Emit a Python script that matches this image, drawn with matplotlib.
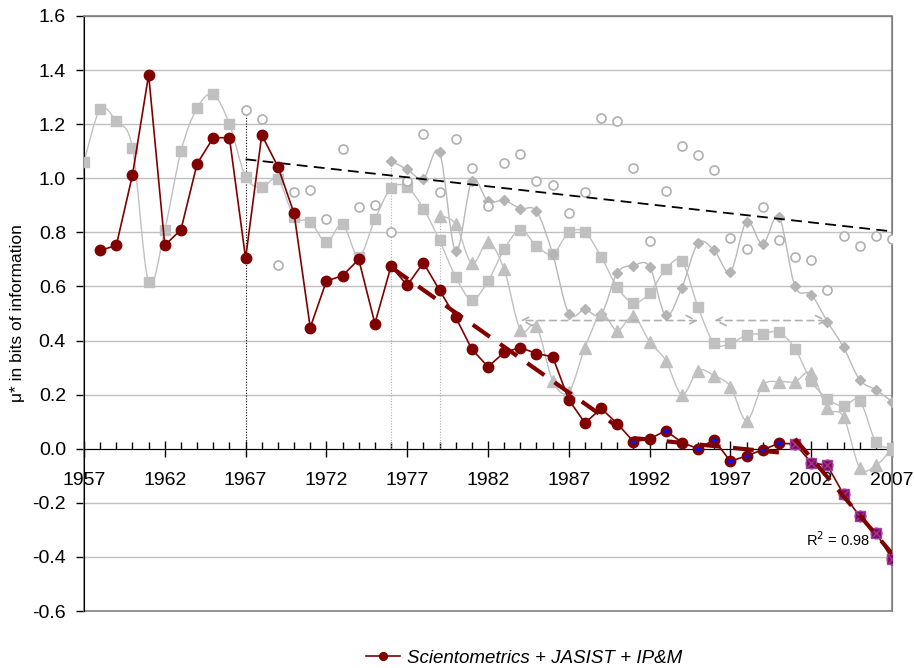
import numpy as np
import matplotlib
matplotlib.use('Agg')
import matplotlib.pyplot as plt
from matplotlib.path import Path
from matplotlib.patches import PathPatch, Rectangle
from matplotlib.ticker import MultipleLocator, FormatStrFormatter

plt.rcParams['font.family'] = ['Liberation Sans', 'DejaVu Sans']

# ---------------- data ----------------
years_main = list(range(1958, 2008))
mu_main = [0.733, 0.752, 1.012, 1.383, 0.752, 0.81, 1.054, 1.15, 1.15, 0.704,
           1.16, 1.043, 0.87, 0.448, 0.62, 0.64, 0.70, 0.463, 0.675, 0.604,
           0.688, 0.586, 0.486, 0.368, 0.303, 0.356, 0.374, 0.352, 0.34, 0.181,
           0.095, 0.149, 0.093, 0.026, 0.036, 0.067, 0.023, 0.0, 0.033, -0.047,
           -0.026, -0.004, 0.02, 0.018, -0.051, -0.062, -0.168, -0.25, -0.31, -0.407]

years_sq = list(range(1957, 2008))
mu_sq = [1.06, 1.255, 1.21, 1.113, 0.615, 0.81, 1.10, 1.26, 1.31, 1.20,
         1.006, 0.967, 0.997, 0.858, 0.84, 0.763, 0.83, 0.71, 0.848, 0.963,
         0.967, 0.888, 0.77, 0.635, 0.551, 0.62, 0.737, 0.81, 0.75, 0.72,
         0.80, 0.80, 0.71, 0.597, 0.54, 0.576, 0.664, 0.693, 0.523, 0.39,
         0.39, 0.42, 0.426, 0.43, 0.37, 0.25, 0.185, 0.157, 0.178, 0.026, 0.004]

years_circ = list(range(1967, 2008))
mu_circ = [1.252, 1.22, 0.678, 0.95, 0.956, 0.848, 1.11, 0.893, 0.903, 0.80,
           0.99, 1.162, 0.95, 1.144, 1.037, 0.896, 1.055, 1.09, 0.99, 0.974,
           0.87, 0.948, 1.222, 1.211, 1.037, 0.767, 0.952, 1.12, 1.085, 1.03,
           0.78, 0.74, 0.893, 0.77, 0.71, 0.696, 0.586, 0.785, 0.748, 0.786, 0.777]

years_dia = list(range(1976, 2008))
mu_dia = [1.063, 1.033, 0.999, 1.096, 0.73, 0.99, 0.915, 0.918, 0.888, 0.878,
          0.72, 0.50, 0.515, 0.497, 0.65, 0.677, 0.673, 0.493, 0.596, 0.76,
          0.733, 0.655, 0.84, 0.756, 0.858, 0.60, 0.57, 0.47, 0.375, 0.255,
          0.218, 0.174]

years_tri = list(range(1979, 2008))
mu_tri = [0.862, 0.83, 0.685, 0.763, 0.663, 0.44, 0.452, 0.252, 0.21, 0.374,
          0.497, 0.437, 0.49, 0.396, 0.326, 0.20, 0.289, 0.27, 0.23, 0.104,
          0.234, 0.248, 0.248, 0.28, 0.149, 0.118, -0.07, -0.062, 0.0]

# piecewise-fit periods of the main series
period1 = (1976, 1990)
period2 = (1991, 2000)
period3 = (2001, 2007)
r2_label = "R$^2$ = 0.98"

# dashed double arrows
arrow_spans = [(1984, 1995), (1996, 2003)]
arrow_level = 0.474

xtick_labels = ['1957', '1962', '1967', '1972', '1977', '1982', '1987', '1992', '1997', '2002', '2007']

legend_label = 'Scientometrics + JASIST + IP&M'

# ---------------- helpers ----------------
def smooth_path(x, y):
    x = np.asarray(x, float); y = np.asarray(y, float)
    n = len(x)
    verts = [(x[0], y[0])]
    codes = [Path.MOVETO]
    for i in range(n - 1):
        i0 = max(i - 1, 0); i3 = min(i + 2, n - 1)
        c1 = (x[i] + (x[i + 1] - x[i0]) / 6, y[i] + (y[i + 1] - y[i0]) / 6)
        c2 = (x[i + 1] - (x[i3] - x[i]) / 6, y[i + 1] - (y[i3] - y[i]) / 6)
        verts += [c1, c2, (x[i + 1], y[i + 1])]
        codes += [Path.CURVE4] * 3
    return Path(verts, codes)

def fit(period):
    ys = np.array(years_main); vs = np.array(mu_main)
    m = (ys >= period[0]) & (ys <= period[1])
    k, b = np.polyfit(ys[m], vs[m], 1)
    xx = np.array(period, float)
    return xx, k * xx + b

# ---------------- figure ----------------
fig = plt.figure(figsize=(9.14, 6.68), dpi=100)
ax = fig.add_axes([84 / 914, 1 - 611 / 668, (892 - 84) / 914, (611 - 16) / 668])

ax.set_xlim(1957, 2007)
ax.set_ylim(-0.6, 1.6)

ax.yaxis.set_major_locator(MultipleLocator(0.2))
ax.yaxis.set_major_formatter(FormatStrFormatter('%.1f'))
ax.yaxis.grid(True, color='#c0c0c0', lw=1.0, zorder=0)
ax.set_axisbelow(True)

ax.set_xticks(range(1957, 2008, 5))
ax.set_xticklabels(xtick_labels)
ax.set_xticks(range(1957, 2008), minor=True)

ax.spines['bottom'].set_position(('data', 0))
ax.spines['bottom'].set_color('black')
ax.spines['left'].set_color('black')
ax.spines['top'].set_color('#808080')
ax.spines['right'].set_color('#808080')
ax.add_patch(Rectangle((0, 0), 1, 1, transform=ax.transAxes, fill=False,
                       edgecolor='#808080', lw=1.2, zorder=1, clip_on=False))

ax.tick_params(axis='x', which='major', direction='inout', length=12, width=1,
               labelsize=14, pad=11)
ax.tick_params(axis='x', which='minor', direction='in', length=5, width=1)
ax.tick_params(axis='y', which='major', direction='out', length=6, width=1,
               labelsize=14, pad=7)

ax.set_ylabel('\u03bc* in bits of information', fontsize=12.5, labelpad=5)

grey = '#c0c0c0'
# smoothed grey lines
for xs, ys, col in [(years_sq, mu_sq, grey), (years_dia, mu_dia, '#b8b8b8'),
                    (years_tri, mu_tri, grey)]:
    ax.add_patch(PathPatch(smooth_path(xs, ys), fill=False, edgecolor=col,
                           lw=1.0, zorder=2))
ax.plot(years_sq, mu_sq, ls='none', marker='s', ms=7.5, color=grey, mec=grey, zorder=3)
ax.plot(years_dia, mu_dia, ls='none', marker='D', ms=5.5, color='#b4b4b4', mec='#b4b4b4', zorder=3)
ax.plot(years_tri, mu_tri, ls='none', marker='^', ms=8, color=grey, mec=grey, zorder=3)
ax.plot(years_circ, mu_circ, ls='none', marker='o', ms=6.5, mfc='white',
        mec='#b0b0b0', mew=1.2, zorder=3)

# drop lines at the start of series
ax.vlines(years_circ[0], 0, mu_circ[0], colors='black', linestyles=(0, (1, 1.5)), lw=0.8, zorder=2)
ax.vlines(years_dia[0], 0, mu_dia[0], colors='#b0b0b0', linestyles=(0, (1, 1.5)), lw=0.8, zorder=2)
ax.vlines(years_tri[0], 0, mu_tri[0], colors='#b0b0b0', linestyles=(0, (1, 1.5)), lw=0.8, zorder=2)

# trend of circles
kc, bc = np.polyfit(years_circ, mu_circ, 1)
xc = np.array([years_circ[0], years_circ[-1]], float)
ax.plot(xc, kc * xc + bc, color='black', ls=(0, (6, 3.5)), lw=1.3, zorder=4)

# arrows
for a, b in arrow_spans:
    ax.annotate('', xy=(a, arrow_level), xytext=(b, arrow_level),
                arrowprops=dict(arrowstyle='<->', color='#b0b0b0', lw=1.2,
                                ls=(0, (4, 3)), mutation_scale=18,
                                shrinkA=0, shrinkB=0), zorder=3)

# main series
red = '#800000'
ax.plot(years_main, mu_main, color=red, lw=1.2, marker='o', ms=7.5, mec=red,
        mfc=red, zorder=5, label=legend_label)

# highlighted sub-periods
ym = np.array(years_main); vm = np.array(mu_main)
m2 = (ym >= 1991) & (ym <= 2001)
ax.plot(ym[m2], vm[m2], ls='none', marker='_', ms=5, mew=2.5, color='#1010e0', zorder=6)
m3 = (ym >= period3[0]) & (ym <= period3[1])
ax.plot(ym[m3], vm[m3], ls='none', marker='s', ms=7, mfc='#800080', mec='#a040a0', zorder=6)
ax.plot(ym[m3], vm[m3], ls='none', marker='x', ms=6, mew=1.0, color='#a04060', zorder=6)

# piecewise trend lines
for p in (period1, period2, period3):
    xx, yy = fit(p)
    ax.plot(xx, yy, color=red, lw=3, ls=(0, (5, 3)), zorder=7,
            dash_capstyle='butt')

ax.text(2001.7, -0.337, r2_label, fontsize=10.5, va='center', ha='left', zorder=8)

leg = fig.legend(loc='center', bbox_to_anchor=(524 / 914, 1 - 658 / 668), frameon=False,
                 prop={'style': 'italic', 'size': 13.5}, handlelength=1.8, handletextpad=0.4,
                 markerscale=0.75)

fig.savefig('out.png', dpi=100)
